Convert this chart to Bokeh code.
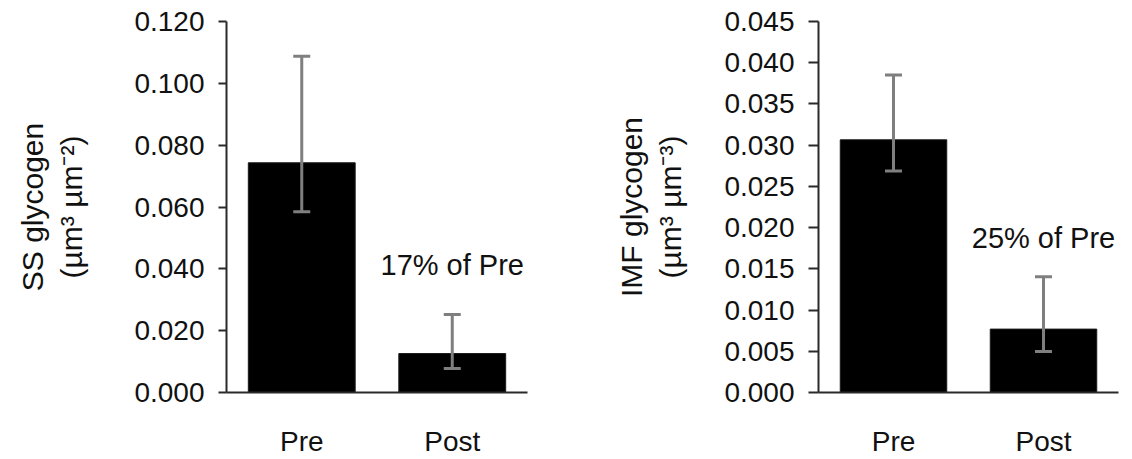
from bokeh.plotting import figure
from bokeh.layouts import row
from bokeh.models import (ColumnDataSource, FactorRange, Range1d, FixedTicker,
                          PrintfTickFormatter, Whisker, TeeHead)
from bokeh.core.properties import value
from bokeh.embed import file_html
from bokeh.resources import INLINE

categories = ["Pre", "Post"]

ss_means = [0.0743, 0.0126]
ss_upper = [0.1088, 0.0252]
ss_lower = [0.0585, 0.0078]
ss_ticks = [0.0, 0.02, 0.04, 0.06, 0.08, 0.10, 0.12]
ss_note = "17% of Pre"
ss_note_y = 0.0412
ss_label = "SS glycogen\n(µm³ µm⁻²)"

imf_means = [0.03065, 0.00769]
imf_upper = [0.0385, 0.01403]
imf_lower = [0.02686, 0.00497]
imf_ticks = [0.0, 0.005, 0.010, 0.015, 0.020, 0.025, 0.030, 0.035, 0.040, 0.045]
imf_note = "25% of Pre"
imf_note_y = 0.0188
imf_label = "IMF glycogen\n(µm³ µm⁻³)"

FONT = "Liberation Sans"
AX = "#2a2a2a"
TXT = "#111111"


def panel(means, upper, lower, ticks, note, note_y, label, width, mb_left,
          mb_right, mb_top, label_standoff, tick_out):
    p = figure(x_range=FactorRange(factors=categories, range_padding=0),
               y_range=Range1d(ticks[0], ticks[-1]),
               width=width, height=459, output_backend="svg",
               toolbar_location=None, tools="",
               min_border_left=mb_left, min_border_right=mb_right,
               min_border_top=mb_top, min_border_bottom=67)
    p.outline_line_color = None
    p.xgrid.grid_line_color = None
    p.ygrid.grid_line_color = None
    src = ColumnDataSource(dict(x=categories, top=means, upper=upper, lower=lower))
    p.vbar(x="x", top="top", width=0.71, source=src, fill_color="black",
           line_color="#1a1a1a", line_width=1)
    w = Whisker(base="x", upper="upper", lower="lower", source=src,
                line_color="#7f7f7f", line_width=3, level="overlay",
                upper_head=TeeHead(size=17, line_color="#7f7f7f", line_width=3),
                lower_head=TeeHead(size=17, line_color="#7f7f7f", line_width=3))
    p.add_layout(w)
    nsrc = ColumnDataSource(dict(x=[categories[1]], y=[note_y], t=[note]))
    p.text(x="x", y="y", text="t", source=nsrc, text_align="center",
           text_baseline="middle", text_font=value(FONT),
           text_font_size="29px", text_color=TXT)

    ya = p.yaxis[0]
    ya.ticker = FixedTicker(ticks=ticks, minor_ticks=[])
    ya.formatter = PrintfTickFormatter(format="%.3f")
    ya.axis_line_color = AX
    ya.axis_line_width = 2
    ya.major_tick_line_color = AX
    ya.major_tick_line_width = 2
    ya.major_tick_out = tick_out
    ya.major_tick_in = 0
    ya.minor_tick_line_color = None
    ya.major_label_standoff = 14
    ya.major_label_text_font = FONT
    ya.major_label_text_font_size = "28px"
    ya.major_label_text_color = TXT
    ya.axis_label = label
    ya.axis_label_text_font = FONT
    ya.axis_label_text_font_size = "30px"
    ya.axis_label_text_font_style = "normal"
    ya.axis_label_text_color = TXT
    ya.axis_label_standoff = label_standoff

    xa = p.xaxis[0]
    xa.axis_line_color = AX
    xa.axis_line_width = 2
    xa.major_tick_line_color = None
    xa.major_tick_out = 0
    xa.major_tick_in = 0
    xa.minor_tick_line_color = None
    xa.major_label_standoff = 33
    xa.major_label_text_font = FONT
    xa.major_label_text_font_size = "28px"
    xa.major_label_text_color = TXT
    return p


left = panel(ss_means, ss_upper, ss_lower, ss_ticks, ss_note, ss_note_y,
             ss_label, 540, 226, 13, 16, 43, 8)
right = panel(imf_means, imf_upper, imf_lower, imf_ticks, imf_note, imf_note_y,
              imf_label, 592, 278, 14, 21, 34, 10)

layout = row(left, right)
open("out.html", "w").write(file_html(layout, INLINE))
